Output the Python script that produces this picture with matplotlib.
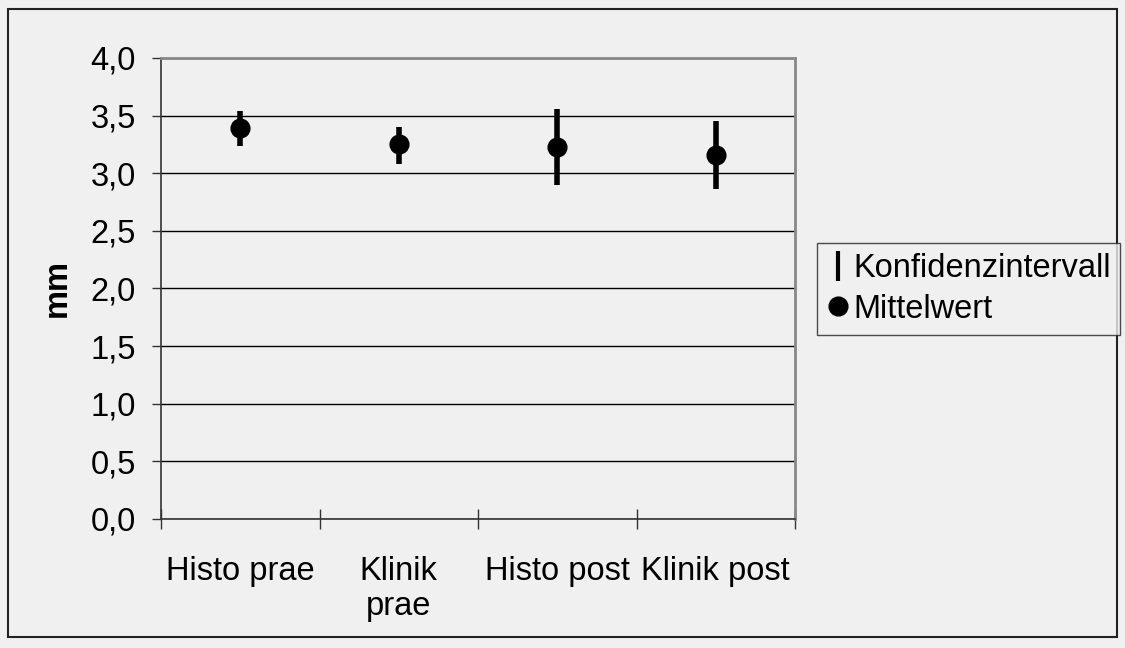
import matplotlib.pyplot as plt
from matplotlib.lines import Line2D
from matplotlib.patches import Rectangle
from matplotlib.ticker import FuncFormatter, MultipleLocator

plt.rcParams['font.family'] = ['Liberation Sans', 'DejaVu Sans']

# Mittelwerte und Konfidenzintervalle (mm)
groups = ["Histo prae", "Klinik\nprae", "Histo post", "Klinik post"]
means = [3.39, 3.25, 3.23, 3.16]
ci_low = [3.24, 3.08, 2.90, 2.86]
ci_high = [3.54, 3.40, 3.56, 3.45]

BG = "#f0f0f0"
FS = 23.5

fig = plt.figure(figsize=(11.25, 6.48), dpi=100, facecolor=BG)
ax = fig.add_axes([0.1431, 0.1991, 0.5636, 0.7114], facecolor=BG)

# Rahmen um die ganze Grafik
fig.patches.append(Rectangle((8 / 1125, 11 / 648), 1109 / 1125, 628 / 648,
                             transform=fig.transFigure, fill=False,
                             edgecolor="#222222", linewidth=1.5))

xpos = [i + 0.5 for i in range(len(groups))]
yerr = [[m - lo for m, lo in zip(means, ci_low)],
        [hi - m for m, hi in zip(means, ci_high)]]

ax.errorbar(xpos, means, yerr=yerr, fmt="o", color="black",
            markersize=13.5, elinewidth=4, capsize=0, zorder=3)

ax.set_xlim(0, 4)
ax.set_ylim(0, 4)
ax.yaxis.set_major_locator(MultipleLocator(0.5))
ax.yaxis.set_major_formatter(FuncFormatter(lambda v, _: f"{v:.1f}".replace(".", ",")))
ax.grid(axis="y", color="black", linewidth=1)
ax.set_axisbelow(True)

ax.set_xticks(xpos)
ax.set_xticklabels(groups, fontsize=FS, linespacing=1.16)
ax.set_xticks([0, 1, 2, 3, 4], minor=True)
ax.tick_params(axis="x", which="major", length=0, pad=27)
ax.tick_params(axis="x", which="minor", direction="inout", length=15,
               width=1, color="#333333")
ax.tick_params(axis="y", direction="out", length=6.5, width=1,
               color="#333333", labelsize=FS, pad=11.5)

for side in ("left", "bottom"):
    ax.spines[side].set_color("#333333")
    ax.spines[side].set_linewidth(1.2)
for side in ("top", "right"):
    ax.spines[side].set_color("#888888")
    ax.spines[side].set_linewidth(2)

ax.set_ylabel("mm", fontsize=FS, fontweight="bold", labelpad=13)

handles = [
    Line2D([], [], linestyle="none", marker="|", markersize=22,
           markeredgewidth=3, color="black"),
    Line2D([], [], linestyle="none", marker="o", markersize=13.5,
           color="black"),
]
leg = fig.legend(handles, ["Konfidenzintervall", "Mittelwert"],
                 loc="center left", bbox_to_anchor=(817 / 1125, 359 / 648),
                 fontsize=FS, frameon=True, fancybox=False,
                 handlelength=0.7, handletextpad=0.1, borderpad=0.3,
                 borderaxespad=0, labelspacing=0.3)
leg.get_frame().set_edgecolor("#222222")
leg.get_frame().set_facecolor(BG)
leg.get_frame().set_linewidth(1)

fig.savefig("out.png", dpi=100, facecolor=BG)
